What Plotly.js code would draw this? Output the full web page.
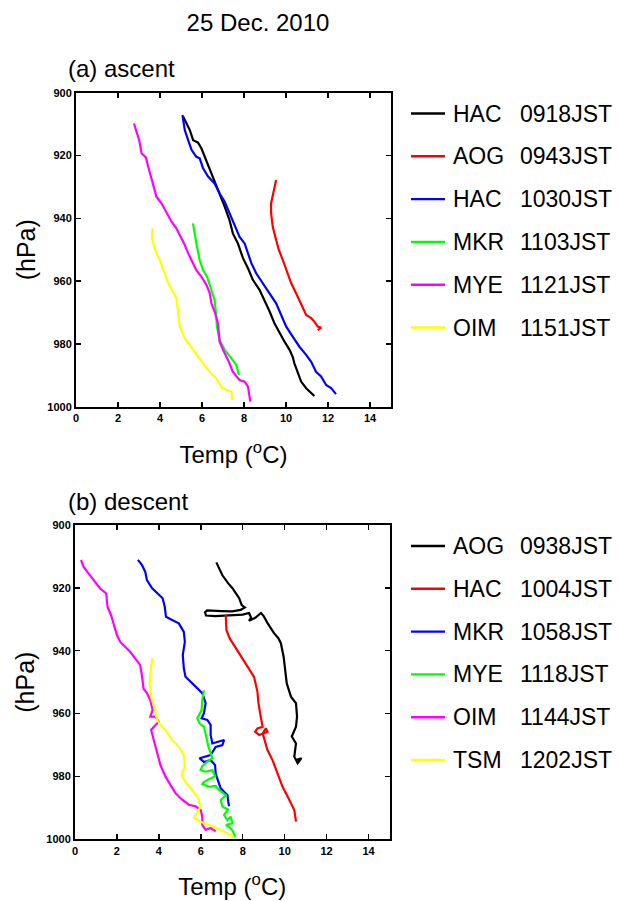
<!DOCTYPE html>
<html>
<head>
<meta charset="utf-8">
<script src="https://cdn.plot.ly/plotly-3.0.1.min.js"></script>
<style>html,body{margin:0;padding:0;background:#fff;}#chart{width:618px;height:901px;}</style>
</head>
<body>
<div id="chart"></div>
<script>
// ---------- data: (a) ascent ----------
const stationsA = ['HAC', 'AOG', 'HAC', 'MKR', 'MYE', 'OIM'];
const timesA = ['0918JST', '0943JST', '1030JST', '1103JST', '1121JST', '1151JST'];

const a_HAC0918_T = [5.10,5.26,5.42,5.58,5.81,5.97,6.13,6.37,6.60,6.84,7.08,7.31,7.47,7.71,7.95,8.19,8.42,8.74,8.98,9.22,9.45,9.69,9.93,10.17,10.32,10.40,10.56,10.72,10.96,11.20,11.35];
const a_HAC0918_P = [907.6,909.8,911.9,915.1,915.9,917.7,920.4,924.1,927.8,932.1,936.3,940.6,944.8,948.0,952.7,955.9,959.6,962.8,966.0,969.7,973.4,976.6,979.3,981.9,984.1,986.2,988.9,992.0,994.1,995.7,996.6];

const a_AOG0943_T = [9.53,9.45,9.37,9.29,9.29,9.37,9.53,9.66,9.85,10.01,10.25,10.48,10.72,10.96,11.20,11.35,11.51,11.67,11.51];
const a_AOG0943_P = [927.8,930.4,933.6,935.2,938.4,942.7,946.9,950.1,953.3,956.5,960.7,963.9,967.1,970.8,971.8,972.9,974.5,974.8,975.6];

const a_HAC1030_T = [5.07,5.18,5.34,5.50,5.73,5.89,6.05,6.29,6.60,6.84,7.08,7.32,7.55,7.79,8.03,8.27,8.35,8.58,8.90,9.22,9.53,9.77,10.01,10.32,10.64,10.96,11.20,11.43,11.67,11.91,12.15,12.38];
const a_HAC1030_P = [907.1,911.9,915.1,918.2,920.4,920.9,924.1,926.7,928.9,932.1,934.7,938.4,942.1,945.9,948.0,952.7,954.3,957.5,960.7,963.9,967.1,970.8,974.5,977.7,980.9,983.5,985.7,988.9,990.4,993.1,994.1,996.0];

const a_MKR1103_T = [5.57,5.65,5.76,5.89,6.05,6.24,6.45,6.60,6.68,6.71,6.84,7.08,7.40,7.63,7.76];
const a_MKR1103_P = [941.6,945.3,949.0,953.3,956.5,958.6,962.8,966.0,971.3,974.5,978.8,981.9,984.6,986.7,989.9];

const a_MYE1121_T = [2.76,2.88,3.01,3.12,3.33,3.44,3.60,3.83,4.07,4.31,4.55,4.78,4.94,5.18,5.34,5.50,5.73,5.97,6.21,6.37,6.45,6.60,6.76,6.84,7.00,7.24,7.47,7.79,8.03,8.19,8.27,8.30];
const a_MYE1121_P = [909.8,912.4,915.1,919.3,920.6,923.6,927.8,933.1,935.2,938.4,941.1,943.2,945.3,948.5,951.1,953.3,956.5,958.6,961.2,963.9,967.1,969.7,973.4,979.3,981.9,985.1,988.9,991.5,992.0,993.6,996.8,998.4];

const a_OIM1151_T = [3.64,3.62,3.75,3.85,3.99,4.15,4.39,4.62,4.78,4.86,4.94,5.18,5.42,5.73,6.05,6.37,6.68,6.92,7.16,7.40,7.44];
const a_OIM1151_P = [943.2,946.4,949.6,951.5,953.3,956.5,960.7,963.4,965.5,969.7,974.5,978.2,980.4,983.5,986.2,988.9,991.0,993.6,994.7,995.2,997.9];

// ---------- data: (b) descent ----------
const stationsB = ['AOG', 'HAC', 'MKR', 'MYE', 'OIM', 'TSM'];
const timesB = ['0938JST', '1004JST', '1058JST', '1118JST', '1144JST', '1202JST'];

const b_AOG0938_T = [6.74,6.90,7.03,7.30,7.51,7.70,7.83,7.95,8.10,7.90,7.50,7.00,6.60,6.30,6.20,6.25,6.70,7.20,7.70,8.00,8.30,8.40,8.30,8.60,8.87,9.00,9.19,9.50,9.70,9.82,9.95,10.00,10.10,10.30,10.54,10.59,10.54,10.34,10.54,10.46,10.62,10.80,10.54];
const b_AOG0938_P = [911.9,914.0,916.0,918.5,920.1,922.0,923.3,925.5,926.2,927.0,927.5,927.4,927.3,927.2,927.8,928.8,929.0,928.8,928.8,928.5,928.0,929.5,930.5,929.5,928.0,929.0,931.3,934.5,936.0,937.6,941.9,945.0,950.4,954.6,956.7,961.0,964.2,967.3,969.5,973.7,975.8,974.2,974.8];

const b_HAC1004_T = [7.19,7.22,7.38,7.67,7.99,8.30,8.54,8.70,8.75,8.86,8.95,8.70,8.59,8.78,9.18,9.10,8.95,9.02,9.18,9.42,9.66,9.90,10.14,10.30,10.46,10.54];
const b_HAC1004_P = [928.6,933.4,936.1,939.2,942.4,945.6,948.3,953.0,956.7,961.0,964.2,964.7,965.8,966.8,965.8,964.7,966.3,967.9,971.6,974.8,979.0,983.3,986.4,988.5,990.7,994.4];

const b_MKR1058_T = [3.00,3.19,3.35,3.43,3.67,3.91,4.18,4.28,4.34,4.63,4.95,5.19,5.24,5.14,5.19,5.27,5.51,5.75,6.07,6.23,6.15,6.04,6.31,6.47,6.47,6.55,6.87,7.11,7.03,6.71,6.47,6.15,5.94,6.15,6.47,6.68,6.71,6.84,6.95,7.11,7.27,7.31,7.35];
const b_MKR1058_P = [911.1,912.7,914.9,917.5,920.1,921.7,923.3,926.0,929.2,930.2,931.3,934.0,937.1,941.4,945.6,948.3,949.9,951.4,953.5,956.7,959.9,961.5,962.0,963.6,966.8,969.5,969.0,968.4,970.0,970.6,973.2,973.8,974.2,975.4,974.8,976.4,979.1,981.7,983.8,984.9,985.9,988.1,989.5];

const b_MYE1118_T = [6.15,6.07,6.04,5.83,5.94,6.15,6.26,6.36,6.47,6.55,6.31,6.07,5.99,6.23,6.55,6.68,6.39,6.15,6.07,6.39,6.71,6.87,7.20,6.95,7.03,7.30,7.11,7.27,7.43,7.51,7.20,7.43,7.54,7.64];
const b_MYE1118_P = [952.6,955.7,958.9,961.5,963.1,964.2,967.3,970.5,972.6,974.2,975.3,976.7,978.0,978.5,978.0,979.9,980.9,981.7,982.4,983.3,983.0,984.3,986.0,987.5,989.6,990.5,992.3,993.9,992.8,994.9,995.5,996.5,997.6,999.2];

const b_OIM1144_T = [0.29,0.40,0.64,0.88,1.20,1.49,1.55,1.72,1.84,2.00,2.16,2.40,2.64,2.88,3.11,3.19,3.27,3.43,3.59,3.70,3.59,3.83,3.99,3.63,3.75,3.91,4.07,4.31,4.55,4.79,5.11,5.43,5.75,5.99,6.07,6.07,6.23,6.47,6.71];
const b_OIM1144_P = [911.1,913.2,915.4,917.5,920.2,921.8,926.0,928.7,931.8,935.0,937.2,938.8,940.4,942.5,944.6,947.8,952.1,953.5,955.7,958.9,961.0,961.0,962.6,965.2,968.4,972.6,976.3,980.0,982.6,985.3,987.4,989.0,989.5,990.6,992.7,995.4,997.0,996.4,997.5];

const b_TSM1202_T = [3.69,3.63,3.56,3.59,3.67,3.83,3.91,4.07,4.31,4.63,4.95,5.19,5.24,5.08,5.27,5.59,5.88,5.99,5.83,5.67,5.99,6.39,6.79,7.11,7.43,7.59];
const b_TSM1202_P = [942.2,945.1,950.4,952.5,955.7,958.9,962.0,963.6,965.2,968.4,970.5,973.2,976.9,979.5,981.7,984.3,987.0,989.6,991.7,993.0,994.4,995.4,996.5,997.6,998.6,999.7];

const xTicks = [0, 2, 4, 6, 8, 10, 12, 14];
const yTicks = [900, 920, 940, 960, 980, 1000];

// ---------- styling ----------
const W = 618, H = 901;
const colors = ['#000000', '#ff0000', '#0000ff', '#00ff00', '#ff00ff', '#ffff00'];
const FONT = 'Liberation Sans, Arial, Helvetica, sans-serif';
const px = x => x / W;
const py = y => 1 - y / H;

const seriesA = [
  [a_HAC0918_T, a_HAC0918_P], [a_AOG0943_T, a_AOG0943_P], [a_HAC1030_T, a_HAC1030_P],
  [a_MKR1103_T, a_MKR1103_P], [a_MYE1121_T, a_MYE1121_P], [a_OIM1151_T, a_OIM1151_P]
];
const seriesB = [
  [b_AOG0938_T, b_AOG0938_P], [b_HAC1004_T, b_HAC1004_P], [b_MKR1058_T, b_MKR1058_P],
  [b_MYE1118_T, b_MYE1118_P], [b_OIM1144_T, b_OIM1144_P], [b_TSM1202_T, b_TSM1202_P]
];

const traces = [];
seriesA.forEach((s, i) => traces.push({
  type: 'scatter', mode: 'lines', x: s[0], y: s[1], xaxis: 'x', yaxis: 'y',
  name: stationsA[i] + ' ' + timesA[i], showlegend: false,
  line: {color: colors[i], width: 2.2}
}));
seriesB.forEach((s, i) => traces.push({
  type: 'scatter', mode: 'lines', x: s[0], y: s[1], xaxis: 'x2', yaxis: 'y2',
  name: stationsB[i] + ' ' + timesB[i], showlegend: false,
  line: {color: colors[i], width: 2.2}
}));

function xAxis(domain, anchor) {
  return {
    domain: domain, anchor: anchor, range: [0, 15], tickvals: xTicks,
    ticks: 'inside', ticklen: 5, tickwidth: 1.5, tickcolor: '#000',
    showline: true, linewidth: 2, linecolor: '#000', mirror: 'ticks',
    showgrid: false, zeroline: false,
    tickfont: {family: FONT, size: 11, color: '#000', weight: 'bold'},
    title: {text: 'Temp (<sup>o</sup>C)', font: {family: FONT, size: 24, color: '#000'}, standoff: 23}
  };
}
function yAxis(domain, anchor) {
  return {
    domain: domain, anchor: anchor, range: [1000, 900], tickvals: yTicks,
    ticks: 'inside', ticklen: 5, tickwidth: 1.5, tickcolor: '#000',
    showline: true, linewidth: 2, linecolor: '#000', mirror: 'ticks',
    showgrid: false, zeroline: false,
    tickfont: {family: FONT, size: 11, color: '#000', weight: 'bold'},
    title: {text: '(hPa)', font: {family: FONT, size: 25, color: '#000'}, standoff: 5}
  };
}

const shapes = [];
const annotations = [];
function addLegend(stations, times, y0, step) {
  stations.forEach((st, i) => {
    const yy = y0 + i * step;
    shapes.push({type: 'line', xref: 'paper', yref: 'paper', x0: px(411), x1: px(445), y0: py(yy), y1: py(yy),
      line: {color: colors[i], width: 2.4}});
    annotations.push({xref: 'paper', yref: 'paper', x: px(451), y: py(yy), xanchor: 'left', yanchor: 'middle',
      text: st, showarrow: false, font: {family: FONT, size: 23, color: '#000'}});
    annotations.push({xref: 'paper', yref: 'paper', x: px(518), y: py(yy), xanchor: 'left', yanchor: 'middle',
      text: times[i], showarrow: false, font: {family: FONT, size: 23, color: '#000'}});
  });
}
addLegend(stationsA, timesA, 113.5, 42.8);
addLegend(stationsB, timesB, 546, 42.8);

annotations.push({xref: 'paper', yref: 'paper', x: px(66), y: py(68.5), xanchor: 'left', yanchor: 'middle',
  text: '(a) ascent', showarrow: false, font: {family: FONT, size: 24, color: '#000'}});
annotations.push({xref: 'paper', yref: 'paper', x: px(66), y: py(501), xanchor: 'left', yanchor: 'middle',
  text: '(b) descent', showarrow: false, font: {family: FONT, size: 24, color: '#000'}});

const layout = {
  width: W, height: H,
  margin: {l: 0, r: 0, t: 0, b: 0},
  paper_bgcolor: '#fff', plot_bgcolor: '#fff',
  showlegend: false,
  title: {text: '25 Dec. 2010', x: px(258), xanchor: 'center', y: py(23), yanchor: 'middle',
    font: {family: FONT, size: 24, color: '#000'}},
  xaxis: xAxis([px(76), px(391)], 'y'),
  yaxis: yAxis([py(406.7), py(92.7)], 'x'),
  xaxis2: xAxis([px(75), px(389.5)], 'y2'),
  yaxis2: yAxis([py(839.3), py(525)], 'x2'),
  shapes: shapes,
  annotations: annotations
};

Plotly.newPlot('chart', traces, layout, {displayModeBar: false, staticPlot: true});
</script>
</body>
</html>
